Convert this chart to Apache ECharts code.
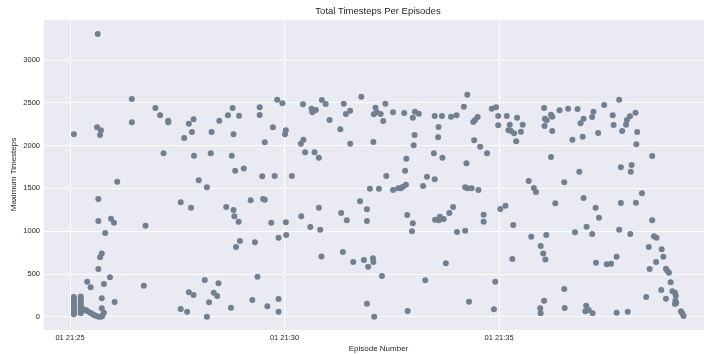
<!DOCTYPE html>
<html>
<head>
<meta charset="utf-8">
<script src="https://cdn.jsdelivr.net/npm/echarts@6/dist/echarts.min.js"></script>
<style>
  html, body { margin: 0; background: #ffffff; }
  #chart { width: 704px; height: 354px; }
</style>
</head>
<body>
<div id="chart"></div>
<script>
// minutes after 21:25:00 for each episode end
const episodeMinutes = [
  0.09, 0.09, 0.09, 0.09, 0.09, 0.09, 0.09, 0.09, 0.09, 0.25,
  0.25, 0.25, 0.25, 0.25, 0.25, 0.25, 0.25, 0.25, 0.25, 0.31,
  0.36, 0.40, 0.47, 0.53, 0.57, 0.62, 0.67, 0.72, 0.75, 0.74,
  0.79,
  0.09, 0.63, 0.72, 0.70, 0.645, 0.66, 0.66, 0.955, 1.025, 0.82,
  0.74, 0.70, 0.66, 0.40, 0.48, 0.93, 0.79, 0.74, 1.04, 1.10,
  1.44, 1.44, 1.72, 1.76, 1.99, 2.10, 2.18, 2.29, 2.29, 2.58,
  2.58, 2.66, 2.73, 2.77, 2.77, 2.82, 2.84, 2.88, 2.88, 2.89,
  3.00, 3.14, 3.19, 3.19, 3.24, 3.28, 3.30, 3.35, 3.43, 3.46,
  3.48, 3.64, 3.68, 3.75, 3.77, 3.79, 3.81, 3.81, 3.83, 3.85,
  3.87, 3.93, 3.94, 3.96, 4.05, 4.21, 4.25, 4.31, 4.37, 4.42,
  4.42, 4.48, 4.50, 4.54, 4.54, 4.60, 4.69, 4.73, 4.77, 4.83,
  4.86, 4.86, 4.86, 4.95, 5.01, 5.03, 5.03, 5.04, 5.17, 5.38,
  5.39, 5.43, 5.44, 5.48, 5.60, 5.63, 5.65, 5.70, 5.73, 5.80,
  5.80, 5.83, 5.86, 5.87, 5.96, 6.05, 6.30, 6.32, 6.36, 6.38,
  6.43, 6.45, 6.53, 6.53, 6.60, 6.76, 6.79, 6.85, 6.92, 6.92,
  6.92, 6.95, 6.99, 7.06, 7.07, 7.07, 7.08, 7.09, 7.12, 7.15,
  7.20, 7.24, 7.27, 7.30, 7.35, 7.37, 7.53, 7.53, 7.65, 7.71,
  7.76, 7.79, 7.81, 7.83, 7.84, 7.86, 7.87, 7.97, 7.99, 7.99,
  8.01, 8.03, 8.04, 8.13, 8.23, 8.28, 8.32, 8.48, 8.50, 8.50,
  8.51, 8.58, 8.59, 8.60, 8.62, 8.67, 8.68, 8.71, 8.76, 8.84,
  8.88, 8.93, 9.01, 9.02, 9.18, 9.21, 9.21, 9.24, 9.26, 9.26,
  9.30, 9.36, 9.40, 9.42, 9.44, 9.50, 9.52, 9.56, 9.64, 9.64,
  9.72, 9.83, 9.88, 9.91, 9.93, 9.98, 9.98, 10.03, 10.15, 10.18,
  10.22, 10.25, 10.27, 10.31, 10.33, 10.35, 10.40, 10.42, 10.51, 10.55,
  10.69, 10.75, 10.81, 10.86, 10.96, 10.97, 10.97, 11.03, 11.05, 11.05,
  11.06, 11.07, 11.08, 11.10, 11.11, 11.21, 11.21, 11.24, 11.24, 11.31,
  11.41, 11.52, 11.52, 11.53, 11.61, 11.71, 11.77, 11.83, 11.87, 11.90,
  11.95, 11.97, 11.97, 12.01, 12.03, 12.04, 12.09, 12.17, 12.17, 12.18,
  12.20, 12.25, 12.26, 12.31, 12.33, 12.45, 12.51, 12.61, 12.65, 12.67,
  12.74, 12.74, 12.80, 12.80, 12.84, 12.84, 12.87, 12.96, 12.98, 13.00,
  13.05, 13.06, 13.07, 13.09, 13.18, 13.19, 13.20, 13.22, 13.33, 13.43,
  13.49, 13.51, 13.57, 13.57, 13.61, 13.66, 13.67, 13.78, 13.79, 13.83,
  13.89, 13.89, 13.92, 13.96, 14.00, 14.04, 14.10, 14.12, 14.11, 14.13,
  14.10, 14.24, 14.27, 14.30
];

const maxTimesteps = [
  230, 200, 175, 145, 117, 90, 70, 47, 28, 235,
  205, 183, 160, 136, 115, 97, 75, 58, 40, 86,
  78, 67, 47, 28, 16, 8, 0, 0, 8, 98,
  47,
  2131, 2212, 2177, 2122, 3302, 1375, 1118, 1145, 1098, 978,
  740, 694, 557, 409, 343, 460, 382, 215, 172, 1577,
  2543, 2271, 362, 1063, 2438, 2353, 1909, 2290, 2271, 1336,
  90, 2088, 58, 2255, 285, 1273, 2158, 2306, 254, 1881,
  1593, 429, 1512, 0, 168, 1909, 2158, 280, 242, 390,
  2290, 1282, 2353, 105, 1881, 2438, 2131, 1246, 1173, 1706,
  814, 1110, 2348, 884, 1733, 1360, 195, 869, 467, 2446,
  2356, 1640, 1375, 1367, 2037, 121, 1098, 2212, 1644, 2535,
  923, 207, 58, 2493, 2131, 2177, 1103, 954, 1644, 2021,
  1173, 2481, 2068, 1920, 1048, 2430, 2388, 1920, 2415, 1858,
  1273, 1016, 705, 2532, 2485, 2298, 2189, 1211, 756, 2488,
  2368, 1126, 2407, 2021, 639, 1348, 2570, 662, 1255, 1118,
  152, 584, 1495, 682, 639, 2041, 2364, 0, 2442, 2388,
  1495, 2368, 475, 2286, 2488, 1645, 2388, 1480, 1500, 1500,
  1519, 2380, 1706, 1542, 1846, 1188, 67, 998, 2325, 1091,
  2002, 2123, 2395, 2372, 1527, 425, 1635, 1909, 2345, 1605,
  1133, 2096, 2216, 1126, 1168, 2345, 1858, 1141, 624, 1211,
  2336, 1282, 2353, 990, 2453, 1512, 1005, 1792, 2593, 1500,
  175, 1500, 2275, 2061, 2298, 2333, 1480, 1986, 1192, 1110,
  1909, 2430, 86, 409, 2446, 2345, 2236, 1258, 1297, 2345,
  2177, 2243, 2173, 674, 1071, 2142, 2049, 2325, 2161, 2243,
  1585, 935, 1504, 1457, 98, 40, 826, 740, 2438, 187,
  2228, 2313, 670, 954, 2294, 2360, 1866, 2336, 2169, 1325,
  2411, 1570, 324, 102, 2430, 2068, 986, 2426, 1694, 2259,
  2103, 2313, 1387, 63, 129, 1051, 78, 2333, 966, 40,
  2395, 1273, 631, 2146, 1157, 2473, 612, 619, 2353, 2240,
  701, 47, 2535, 1016, 1745, 1328, 2169, 2243, 2298, 58,
  2341, 966, 1694, 1772, 2383, 1332, 2014, 2158, 1442, 230,
  814, 557, 1877, 1126, 939, 639, 923, 312, 787, 701,
  561, 210, 537, 514, 402, 297, 280, 245, 187, 160,
  148, 63, 40, 8
];

const xTickLabels = ["01 21:25", "01 21:30", "01 21:35"];

const chart = echarts.init(document.getElementById("chart"));
const font = "'Liberation Sans', Arial, sans-serif";
const ink = "#262626";

chart.setOption({
  animation: false,
  backgroundColor: "#ffffff",
  title: {
    text: "Total Timesteps Per Episodes",
    left: 378,
    top: 6,
    padding: 0,
    textAlign: "center",
    textStyle: { fontFamily: font, fontSize: 9.5, fontWeight: "normal", color: ink },
  },
  grid: {
    left: 43,
    right: -10,
    top: 19,
    bottom: 24,
    show: true,
    backgroundColor: "#eaeaf2",
    borderWidth: 0,
    containLabel: false,
    outerBoundsMode: "none",
  },
  xAxis: {
    type: "value",
    min: -0.63,
    max: 15.01,
    splitNumber: 3,
    name: "Episode Number",
    nameLocation: "middle",
    nameGap: 15,
    nameMoveOverlap: false,
    nameTextStyle: { fontFamily: font, fontSize: 8, color: ink },
    axisLine: { show: false },
    axisTick: { show: false },
    splitLine: { show: true, lineStyle: { color: "#ffffff", width: 1 } },
    axisLabel: {
      margin: 4,
      showMinLabel: false,
      showMaxLabel: false,
      fontFamily: font,
      fontSize: 7.5,
      color: ink,
      formatter: (v) => xTickLabels[Math.round(v / 5)] ?? "",
    },
  },
  yAxis: {
    type: "value",
    min: -155,
    max: 3478,
    splitNumber: 7,
    name: "Maximum Timesteps",
    nameLocation: "middle",
    nameGap: 25,
    nameMoveOverlap: false,
    nameTextStyle: { fontFamily: font, fontSize: 8, color: ink },
    axisLine: { show: false },
    axisTick: { show: false },
    splitLine: { show: true, lineStyle: { color: "#ffffff", width: 1 } },
    axisLabel: {
      margin: 3,
      showMinLabel: false,
      showMaxLabel: false,
      fontFamily: font,
      fontSize: 7.5,
      color: ink,
      formatter: (v) => String(v),
    },
  },
  series: [
    {
      type: "scatter",
      symbol: "circle",
      symbolSize: 6,
      itemStyle: { color: "#708090", opacity: 1 },
      data: episodeMinutes.map((m, i) => [m, maxTimesteps[i]]),
    },
  ],
});
</script>
</body>
</html>
